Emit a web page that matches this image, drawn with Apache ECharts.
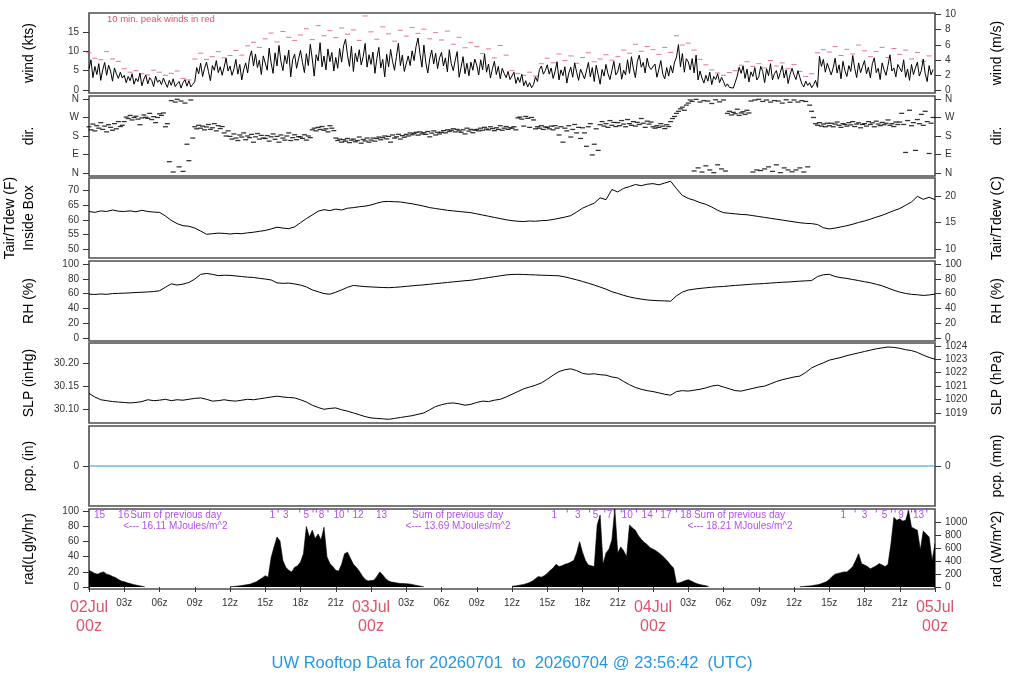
<!DOCTYPE html>
<html>
<head>
<meta charset="utf-8">
<title>UW Rooftop Data</title>
<script src="https://cdn.jsdelivr.net/npm/echarts@6.0.0/dist/echarts.min.js"></script>
<style>
  html, body { margin: 0; padding: 0; background: #fff; }
  #main { width: 1024px; height: 700px; }
</style>
</head>
<body>
<div id="main"></div>
<script>
// ---- data (hours after 02Jul 00z) ----

// wind speed, kts, every 10 min
var windKts = [
  5.5,7.8,3.2,6.1,4.0,6.8,2.5,5.2,7.1,3.8,6.4,4.9,2.3,5.7,4.2,3.0,4.6,3.1,
  3.8,1.9,3.5,2.4,4.2,1.5,3.0,2.2,4.4,1.1,2.8,3.9,1.6,3.2,2.5,0.9,3.6,2.0,
  2.6,1.4,3.1,1.8,0.7,2.5,1.2,2.9,0.9,1.6,2.2,0.5,1.9,2.7,1.0,2.4,0.8,1.5,
  2.1,5.8,4.2,6.9,3.5,5.6,7.2,4.8,2.4,6.3,5.1,7.6,4.5,6.0,3.8,5.9,8.2,4.9,
  6.2,3.8,5.4,7.9,4.1,6.6,2.6,5.3,7.0,4.4,8.4,10.1,6.2,9.3,5.8,7.7,4.0,8.8,
  8.7,5.1,10.8,7.0,4.3,9.6,6.2,11.5,7.4,5.0,8.9,6.8,10.3,3.4,7.9,9.2,5.6,8.0,
  10.2,7.1,4.5,9.4,6.3,11.8,8.0,3.6,9.1,7.5,12.2,6.0,8.8,5.2,10.6,7.3,9.7,4.9,
  8.4,5.6,10.7,7.2,11.4,13.1,9.0,6.1,11.3,4.8,9.5,7.3,10.4,6.5,8.6,12.0,5.9,9.1,
  6.6,9.8,4.3,8.2,11.0,5.7,7.9,3.4,9.2,6.0,10.5,7.4,5.1,8.7,12.1,6.3,9.0,4.8,
  5.2,8.8,6.3,10.1,7.6,11.2,13.4,9.4,5.9,11.6,7.0,4.4,8.1,10.3,6.7,9.5,5.5,8.3,
  9.7,6.2,8.3,4.7,10.4,6.8,5.0,7.7,9.9,3.3,5.9,8.6,4.2,6.9,3.7,7.2,5.1,8.0,
  6.4,3.9,7.8,5.2,9.3,4.6,6.7,3.1,5.5,7.4,4.0,6.1,2.9,5.6,4.3,3.2,4.8,2.7,
  2.8,4.6,1.7,3.3,2.0,4.1,1.1,2.4,0.8,1.9,0.6,1.4,3.4,2.2,5.3,6.2,4.1,5.0,
  6.5,4.1,5.7,3.0,4.8,7.3,2.6,5.2,3.7,6.0,1.8,4.4,5.9,3.3,7.0,4.6,2.5,5.4,
  5.6,2.9,4.9,7.1,3.4,5.8,2.2,6.4,4.0,1.5,5.3,3.6,6.6,4.2,2.7,5.0,7.4,3.9,
  4.7,6.9,2.8,5.1,3.9,7.8,4.3,8.6,5.5,3.2,7.4,9.0,5.9,7.1,4.4,8.2,6.0,5.3,
  4.8,6.7,3.3,5.4,7.6,4.1,2.9,5.8,3.6,6.3,4.4,7.2,8.5,11.7,6.0,9.4,4.6,8.1,
  7.3,5.2,8.1,4.4,9.0,2.6,4.9,3.1,1.8,3.8,2.3,4.6,1.4,3.5,2.7,4.2,1.9,3.3,
  2.2,0.9,1.6,0.7,1.2,0.5,2.0,3.6,5.9,4.3,6.2,3.0,5.4,2.1,4.7,3.5,5.8,2.6,
  3.4,6.1,4.8,1.9,5.5,3.7,6.8,2.6,4.2,5.0,2.8,4.5,6.3,3.1,5.2,1.7,4.0,5.6,
  3.9,2.7,5.0,3.2,1.6,0.8,2.3,1.2,1.9,0.6,1.4,2.5,0.7,8.7,6.1,7.9,4.6,6.9,
  6.8,3.9,5.7,8.2,4.4,6.5,2.9,7.4,5.0,3.5,6.3,4.8,8.9,5.6,3.2,7.0,4.5,6.1,
  7.6,4.2,5.9,3.1,6.8,8.3,4.5,5.6,2.7,7.0,5.2,3.8,6.4,9.1,4.9,5.7,3.4,6.6,
  6.1,4.7,7.8,3.3,5.4,2.5,6.6,4.0,5.7,7.2,3.6,5.0,8.0,4.2,2.2,6.3,3.9,5.3
];

// 10 min peak wind, kts, every 30 min
var peakKts = [
  9.6,8.2,7.8,9.9,8.0,7.4,  5.5,4.6,5.0,4.2,3.9,5.1,
  4.6,3.8,4.3,4.9,3.0,2.6,  8.0,9.5,7.9,8.6,9.9,8.3,
  8.9,10.2,9.0,11.4,12.3,11.0,  13.2,14.7,12.4,15.1,13.6,12.8,
  14.2,15.8,13.0,16.6,14.0,15.3,  13.5,16.0,14.4,15.5,12.8,19.1,
  15.0,13.1,16.3,14.5,12.6,15.4,  13.9,16.1,14.6,15.7,13.2,14.8,
  12.9,15.2,11.8,13.6,10.9,12.2,  11.2,9.4,10.6,8.3,11.5,9.0,
  5.0,4.3,3.8,4.6,3.6,6.8,  8.2,7.0,9.3,7.6,8.8,6.9,
  8.4,9.6,7.3,8.0,9.1,7.7,  8.6,10.3,9.5,11.8,10.0,11.2,
  10.4,9.2,11.0,9.7,14.0,11.6,  12.1,10.3,7.9,6.5,5.2,4.4,
  3.8,4.5,5.0,6.4,7.3,6.1,  6.8,5.7,7.6,6.2,7.0,5.5,
  6.6,4.8,3.5,4.2,9.6,10.4,  9.8,11.2,8.9,10.5,9.3,11.6,
  10.1,8.6,9.9,11.0,8.4,10.7,  9.2,10.3,8.0,9.7,7.4,8.8
];

// wind direction, degrees, every 10 min
var dirDeg = [
  225,210,238,205,230,218,245,212,228,200,235,222,208,240,215,250,226,232,
  250,272,265,280,258,270,276,262,235,268,282,271,266,290,260,274,245,270,
  288,280,292,225,240,55,352,5,345,358,30,350,8,340,140,60,355,170,
  225,215,232,218,228,210,224,236,212,220,240,205,230,216,226,195,180,205,
  178,165,190,170,158,185,175,195,162,180,172,188,150,176,192,165,183,170,
  168,182,155,176,190,164,178,150,185,170,160,180,195,158,172,186,162,177,
  175,168,186,160,180,172,210,218,205,222,212,226,208,215,200,230,218,206,
  170,158,165,150,162,155,168,148,160,165,152,158,175,145,163,156,170,150,
  160,170,155,168,175,162,172,180,166,178,150,185,170,176,188,165,182,174,
  188,180,195,186,192,198,184,200,190,196,188,202,176,194,205,185,198,190,
  198,206,195,210,202,208,215,200,212,205,198,210,190,218,204,212,196,208,
  212,205,218,208,222,214,210,225,216,206,220,212,230,208,218,226,212,220,
  218,225,210,268,272,262,228,275,266,222,270,258,215,225,218,230,212,224,
  222,215,228,210,230,218,185,225,150,218,205,230,175,212,236,195,222,168,
  220,195,130,225,240,88,140,215,110,235,250,228,240,222,255,232,246,226,
  245,230,255,238,225,260,240,232,250,228,246,236,265,242,222,252,238,248,
  225,218,230,222,240,228,216,235,226,250,265,275,290,300,312,320,305,330,
  340,355,348,10,358,25,345,5,352,35,350,15,338,2,356,40,346,20,
  355,10,290,300,282,295,288,310,280,292,298,285,305,292,350,5,355,15,
  358,12,348,20,355,30,345,8,352,40,350,2,340,25,356,15,344,6,
  355,15,345,25,352,5,348,30,330,300,270,240,232,245,228,238,225,242,
  230,242,225,238,248,232,222,240,236,228,245,234,250,226,238,244,220,236,
  240,228,250,236,244,225,252,238,230,246,235,242,258,232,240,226,248,236,
  248,290,236,100,255,305,230,245,110,260,240,285,232,300,250,95,242,270
];

// air temperature inside box, F, every 30 min
var tairF = [
  62.8,62.5,63.0,62.8,63.3,62.9,62.8,63.0,62.7,63.2,62.8,62.6,
  62.5,61.3,59.8,58.7,58.0,57.8,57.2,56.2,55.1,55.3,55.5,55.4,
  55.2,55.4,55.3,55.6,55.8,56.1,56.4,56.9,57.5,57.2,57.0,57.6,
  59.0,60.4,61.6,62.9,63.4,63.1,63.6,63.3,63.9,64.1,64.4,64.6,
  65.0,65.6,66.1,66.2,66.1,66.0,65.7,65.4,65.0,64.6,64.1,63.8,
  63.5,63.2,63.0,62.8,62.6,62.4,62.0,61.6,61.2,60.8,60.4,60.0,
  59.7,59.5,59.4,59.6,59.5,59.7,59.8,60.1,60.5,60.9,61.4,62.6,
  63.9,64.8,65.6,67.4,66.8,70.2,69.4,70.6,71.2,71.9,71.5,72.0,
  72.2,71.8,72.4,73.0,70.5,68.2,67.2,66.6,65.8,65.2,64.3,63.2,
  62.4,62.2,62.0,61.8,61.7,61.4,61.1,60.8,60.5,60.2,59.9,59.6,
  59.3,59.0,58.8,58.7,58.4,57.3,56.9,57.2,57.6,58.0,58.5,59.1,
  59.6,60.2,60.9,61.5,62.3,63.1,63.8,64.9,66.0,67.9,66.9,67.6,
  66.8
];

// relative humidity, %, every 30 min
var rhPct = [
  59.2,58.8,59.5,59.0,60.0,60.3,60.6,61.0,61.5,61.8,62.2,62.8,
  63.8,68.5,73.2,71.5,72.8,75.0,79.5,86.0,87.2,86.0,84.2,84.8,
  84.6,83.8,83.0,82.2,81.8,80.6,79.6,78.4,74.5,73.8,74.2,73.0,
  71.5,69.0,65.0,62.5,60.0,59.2,61.8,65.0,68.5,71.0,70.2,69.4,
  69.0,68.6,68.2,68.0,68.4,69.0,69.8,70.5,71.2,71.8,72.6,73.5,
  74.2,75.0,75.8,76.6,77.4,78.0,79.2,80.4,81.6,82.8,84.0,85.2,
  85.8,86.0,85.8,85.5,85.2,84.8,84.6,84.3,84.0,82.5,80.6,78.6,
  76.4,74.0,71.5,68.8,66.0,62.5,60.2,57.6,55.5,53.8,52.6,51.4,
  50.8,50.4,50.2,49.7,57.0,62.0,64.8,66.0,67.0,67.8,68.6,69.2,
  69.6,70.4,71.0,71.6,72.2,72.8,73.2,73.6,74.2,74.8,75.3,75.6,
  76.2,76.8,77.2,77.6,83.0,85.4,86.0,83.0,81.5,80.4,79.0,77.6,
  76.0,74.6,72.6,70.5,67.5,64.5,62.0,60.2,59.0,58.4,57.5,58.2,
  59.2
];

// sea level pressure, inHg, every 30 min
var slpInHg = [
  30.134,30.126,30.120,30.118,30.116,30.115,30.114,30.113,30.114,30.116,30.120,30.118,
  30.119,30.121,30.118,30.120,30.119,30.121,30.123,30.124,30.121,30.117,30.118,30.120,
  30.118,30.117,30.119,30.121,30.120,30.122,30.124,30.126,30.128,30.126,30.125,30.124,
  30.120,30.115,30.108,30.103,30.099,30.101,30.102,30.098,30.095,30.091,30.087,30.083,
  30.080,30.079,30.078,30.077,30.079,30.081,30.083,30.085,30.088,30.091,30.098,30.105,
  30.109,30.112,30.113,30.111,30.108,30.110,30.114,30.117,30.116,30.119,30.121,30.126,
  30.132,30.138,30.144,30.148,30.152,30.157,30.165,30.174,30.182,30.186,30.188,30.184,
  30.178,30.176,30.177,30.175,30.174,30.170,30.168,30.160,30.153,30.147,30.143,30.140,
  30.138,30.135,30.132,30.130,30.138,30.140,30.139,30.141,30.143,30.146,30.150,30.152,
  30.148,30.144,30.140,30.139,30.142,30.145,30.148,30.150,30.155,30.160,30.164,30.167,
  30.170,30.172,30.180,30.190,30.196,30.201,30.207,30.210,30.213,30.217,30.220,30.223,
  30.226,30.229,30.232,30.234,30.236,30.235,30.233,30.230,30.228,30.224,30.218,30.213,
  30.209
];

// precipitation, in, hourly
var pcpIn = [
  0,0,0,0,0,0,0,0,0,0,0,0,
  0,0,0,0,0,0,0,0,0,0,0,0,
  0,0,0,0,0,0,0,0,0,0,0,0,
  0,0,0,0,0,0,0,0,0,0,0,0,
  0,0,0,0,0,0,0,0,0,0,0,0,
  0,0,0,0,0,0,0,0,0,0,0,0,
  0
];

// solar radiation, Langley/hr, every 15 min
var radLy = [
  22,20,18,17,19,20,17,16,14,12.5,10,8,
  7,5.5,4.5,3.5,2.6,1.8,1.1,0.3,0,0,0,0,
  0,0,0,0,0,0,0,0,0,0,0,0,
  0,0,0,0,0,0,0,0,0,0,0,0,
  0.3,0.6,1,1.5,2,2.6,3.2,4,5.5,7,9.7,12,
  15,13,39,53,66,61,35,26,22,20,26,28,
  33,44,80,66,75,64,70,62,79,40,31,27,
  22,21,30,44,46,38,30,26,21,15,10,8,
  8.5,9,14,20,16,11,8,6.5,6,5.2,4.8,4.5,
  4.4,4,3.5,2.5,1.8,1,0.4,0,0,0,0,0,
  0,0,0,0,0,0,0,0,0,0,0,0,
  0,0,0,0,0,0,0,0,0,0,0,0,
  1,1.5,2,2.8,3.5,4.5,6,8,11,14,13,15,
  18,22,25,30,27,28,30,31,33,35,45,60,
  46,35,29,28,27,82,95,30,45,50,62,103,
  45,53,48,40,82,78,75,68,63,59,56,52,
  50,48,45,42,38,34,29,25,5,5.5,7,8.5,
  9.7,8,6,4.4,3.2,2.4,1.6,0.8,0,0,0,0,
  0,0,0,0,0,0,0,0,0,0,0,0,
  0,0,0,0,0,0,0,0,0,0,0,0,
  0,0,0.3,0.6,1,1.3,1.8,2.5,3,4,5.5,7,
  10,14,17,18,19,20,20,23,27,35,44,31,
  29,27,24,26,28,31,29,27,30,57,92,88,
  90,87,88,101,79,77,75,49,74,70,66,35,
  57
];

// purple hourly counts along the top of the radiation panel
var radCountHours = [0.9, 2.95, 15.6, 16.74, 18.5, 19.78, 21.28, 22.9, 24.9,
  39.6, 41.6, 43.1, 44.3, 45.8, 47.5, 49.1, 50.8, 64.2, 66.0, 67.7, 69.1, 70.6];
var radCountText = ['15','16','1','3','5','8','10','12','13',
  '1','3','5','7','10','14','17','18','1','3','5','9','13'];
var radTickHours = [16.1, 17.93, 19.07, 19.35, 20.34, 22.04, 40.7, 42.6, 43.9, 44.7, 45.3,
  46.6, 48.3, 50.0, 65.2, 67.0, 68.3, 68.6, 69.7, 70.0, 70.3, 71.3];
var sumHours = [3.47, 27.45, 51.44];
var arrowHours = [2.87, 26.9, 50.9];
var dailySum = ['16.11', '13.69', '18.21'];

// axis ticks and labels
var xTicks = [0,3,6,9,12,15,18,21,24,27,30,33,36,39,42,45,48,51,54,57,60,63,66,69,72];
var hourLabels = ['00z','03z','06z','09z','12z','15z','18z','21z'];
var dayLabels = ['02Jul','03Jul','04Jul','05Jul'];
var dirNames = {0: 'N', 90: 'E', 180: 'S', 270: 'W', 360: 'N'};

// ---- layout ----
var FONT = 'Liberation Sans, Arial, Helvetica, sans-serif';
var RED = '#DF536B', BLUE = '#2297E6', PURPLE = '#A020F0';
var panelTop = [13, 96, 178, 261, 343, 426, 509];
var panelH = 80;

function plain(v) { return String(v); }

function yAx(grid, pos, min, max, ticks, name, fmt) {
  return {
    type: 'value', gridIndex: grid, position: pos, min: min, max: max,
    name: name, nameLocation: 'middle', nameRotate: 90,
    nameGap: pos === 'left' ? 50 : 53,
    nameTextStyle: {fontSize: 14, color: '#000', fontFamily: FONT, lineHeight: 19},
    axisLine: {show: false},
    axisTick: {show: true, length: 6, lineStyle: {color: '#333'}, customValues: ticks},
    axisLabel: {show: true, fontSize: 10, color: '#333', margin: 10, fontFamily: FONT,
      customValues: ticks, formatter: fmt || plain},
    splitLine: {show: false}
  };
}

var grids = panelTop.map(function (t) {
  return {left: 89, right: 89, top: t, height: panelH, show: true, outerBoundsMode: 'none',
    borderColor: '#4d4d4d', borderWidth: 1.6, backgroundColor: '#fff'};
});

var xAxes = panelTop.map(function (t, i) {
  var last = i === panelTop.length - 1;
  return {
    type: 'value', gridIndex: i, min: 0, max: 72, show: last,
    axisLine: {show: false},
    axisTick: {show: true, length: 5, lineStyle: {color: '#333'}, customValues: xTicks},
    axisLabel: {
      show: true, margin: 9, fontSize: 10, color: '#333', fontFamily: FONT,
      customValues: xTicks,
      formatter: function (v) {
        if (v % 24 === 0) return '{d|' + dayLabels[v / 24] + '}\n{d|00z}';
        return hourLabels[(v % 24) / 3];
      },
      rich: {d: {fontSize: 16, color: RED, lineHeight: 19, fontFamily: FONT}}
    },
    splitLine: {show: false}
  };
});

var fix2 = function (v) { return v.toFixed(2); };
var dirFmt = function (v) { return dirNames[v]; };
var yAxes = [
  yAx(0, 'left', -0.76, 19.86, [0,5,10,15], 'wind (kts)'),
  yAx(0, 'right', -0.391, 10.217, [0,2,4,6,8,10], 'wind (m/s)'),
  yAx(1, 'left', -14.4, 374.4, [0,90,180,270,360], 'dir.', dirFmt),
  yAx(1, 'right', -14.4, 374.4, [0,90,180,270,360], 'dir.', dirFmt),
  yAx(2, 'left', 47.1, 74.1, [50,55,60,65,70], 'Tair/Tdew (F)\nInside Box'),
  yAx(2, 'right', 8.389, 23.389, [10,15,20], 'Tair/Tdew (C)'),
  yAx(3, 'left', -4, 104, [0,20,40,60,80,100], 'RH (%)'),
  yAx(3, 'right', -4, 104, [0,20,40,60,80,100], 'RH (%)'),
  yAx(4, 'left', 30.0689, 30.2447, [30.10,30.15,30.20], 'SLP (inHg)', fix2),
  yAx(4, 'right', 1018.26, 1024.21, [1019,1020,1021,1022,1023,1024], 'SLP (hPa)'),
  yAx(5, 'left', -1, 1, [0], 'pcp. (in)'),
  yAx(5, 'right', -25.4, 25.4, [0], 'pcp. (mm)'),
  yAx(6, 'left', -2.6, 103, [0,20,40,60,80,100], 'rad(Lgly/hr)'),
  yAx(6, 'right', -30.2, 1197, [0,200,400,600,800,1000], 'rad (W/m^2)')
];

function byStep(arr, step) {
  return arr.map(function (v, i) { return [i * step, v]; });
}

var chart = echarts.init(document.getElementById('main'));
chart.setOption({
  animation: false,
  backgroundColor: '#fff',
  textStyle: {fontFamily: FONT},
  title: {
    text: 'UW Rooftop Data for 20260701  to  20260704 @ 23:56:42  (UTC)',
    left: 'center', top: 650,
    textStyle: {fontSize: 16.5, fontWeight: 'normal', color: BLUE, fontFamily: FONT}
  },
  graphic: [{
    type: 'text', left: 107, top: 14,
    style: {text: '10 min. peak winds in red', fill: RED, fontSize: 9.5, fontFamily: FONT}
  }],
  grid: grids,
  xAxis: xAxes,
  yAxis: yAxes,
  series: [
    {type: 'line', xAxisIndex: 0, yAxisIndex: 0, data: byStep(windKts, 1 / 6),
      symbol: 'none', lineStyle: {color: '#000', width: 1}},
    {type: 'scatter', xAxisIndex: 0, yAxisIndex: 0, data: byStep(peakKts, 0.5),
      symbol: 'rect', symbolSize: [5, 1], itemStyle: {color: RED}},
    {type: 'scatter', xAxisIndex: 1, yAxisIndex: 2, data: byStep(dirDeg, 1 / 6),
      symbol: 'rect', symbolSize: [5, 1.3], itemStyle: {color: '#000'}},
    {type: 'line', xAxisIndex: 2, yAxisIndex: 4, data: byStep(tairF, 0.5),
      symbol: 'none', lineStyle: {color: '#000', width: 1}},
    {type: 'line', xAxisIndex: 3, yAxisIndex: 6, data: byStep(rhPct, 0.5),
      symbol: 'none', lineStyle: {color: '#000', width: 1}},
    {type: 'line', xAxisIndex: 4, yAxisIndex: 8, data: byStep(slpInHg, 0.5),
      symbol: 'none', lineStyle: {color: '#000', width: 1}},
    {type: 'line', xAxisIndex: 5, yAxisIndex: 10, data: byStep(pcpIn, 1),
      symbol: 'none', lineStyle: {color: BLUE, width: 1.2}},
    {type: 'line', xAxisIndex: 6, yAxisIndex: 12,
      data: radLy.map(function (v, i) { return [i * 0.25, v > 0 ? v : null]; }),
      symbol: 'none', connectNulls: false,
      lineStyle: {color: '#000', width: 0.6}, areaStyle: {color: '#000', opacity: 1}},
    {type: 'scatter', xAxisIndex: 6, yAxisIndex: 12,
      data: radTickHours.map(function (h) { return [h, 101]; }),
      symbol: 'rect', symbolSize: [1, 4], itemStyle: {color: PURPLE}},
    {type: 'scatter', xAxisIndex: 6, yAxisIndex: 12,
      data: radCountHours.map(function (h) { return [h, 94.5]; }),
      symbolSize: 1, itemStyle: {color: 'rgba(0,0,0,0)'},
      label: {show: true, position: 'inside', color: PURPLE, fontSize: 10, fontFamily: FONT,
        formatter: function (p) { return radCountText[p.dataIndex]; }}},
    {type: 'scatter', xAxisIndex: 6, yAxisIndex: 12,
      data: sumHours.map(function (h) { return [h, 94.5]; }),
      symbolSize: 1, itemStyle: {color: 'rgba(0,0,0,0)'},
      label: {show: true, position: 'right', distance: 0, color: PURPLE, fontSize: 10, fontFamily: FONT,
        formatter: 'Sum of previous day'}},
    {type: 'scatter', xAxisIndex: 6, yAxisIndex: 12,
      data: arrowHours.map(function (h) { return [h, 80]; }),
      symbolSize: 1, itemStyle: {color: 'rgba(0,0,0,0)'},
      label: {show: true, position: 'right', distance: 0, color: PURPLE, fontSize: 10, fontFamily: FONT,
        formatter: function (p) { return '<--- ' + dailySum[p.dataIndex] + ' MJoules/m^2'; }}}
  ]
});
</script>
</body>
</html>
